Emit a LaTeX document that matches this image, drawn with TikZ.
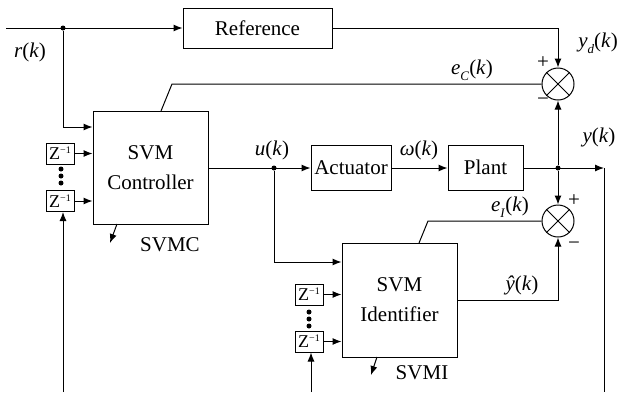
\documentclass[tikz,border=0pt]{standalone}
\usepackage{fontspec}
\setmainfont{Liberation Serif}
\usetikzlibrary{arrows.meta}
\newcommand\vi[1]{\textit{#1}}
\newcommand\sbs[1]{\raisebox{-0.6ex}{\fontsize{13}{13}\selectfont\textit{#1}}}
\newcommand\zinv{Z\raisebox{0.75ex}{\fontsize{10}{10}\selectfont −1}}
\begin{document}
\begin{tikzpicture}[x=1pt,y=-1pt,line width=1pt,
  box/.style={draw,inner sep=0pt,align=center,font=\fontsize{21}{30}\selectfont},
  zbox/.style={draw,inner sep=0pt,minimum width=28pt,minimum height=21pt,font=\fontsize{18}{18}\selectfont},
  sumc/.style={draw,circle,minimum size=32pt,inner sep=0pt},
  lbl/.style={inner sep=0pt,font=\fontsize{21}{24}\selectfont},
  sgn/.style={inner sep=0pt,font=\fontsize{21}{21}\selectfont},
  arr/.style={-{Latex[length=9pt,width=7pt]}},
  dot/.style={circle,fill,inner sep=0pt,minimum size=5pt}]
\useasboundingbox (0,0) rectangle (621,392);
% blocks
\node[box,minimum width=149pt,minimum height=40pt] (ref) at (257.5,28) {Reference};
\node[box,minimum width=115pt,minimum height=113pt] (ctrl) at (150.5,167.5) {SVM\\Controller};
\node[box,minimum width=80pt,minimum height=45pt] (act) at (351,167.5) {Actuator};
\node[box,minimum width=75pt,minimum height=45pt] (plant) at (485.5,167.5) {Plant};
\node[box,minimum width=115pt,minimum height=114pt] (ident) at (399.5,300) {SVM\\Identifier};
\node[sumc] (s1) at (558,84) {};
\node[sumc] (s2) at (558,221) {};
\draw (s1.north east) -- (s1.south west) (s1.north west) -- (s1.south east);
\draw (s2.north east) -- (s2.south west) (s2.north west) -- (s2.south east);
\node[zbox] (zc1) at (60,153.5) {\zinv};
\node[zbox] (zc2) at (60,201) {\zinv};
\node[zbox] (zi1) at (309,294.5) {\zinv};
\node[zbox] (zi2) at (309,341.5) {\zinv};
\node[dot] (zd1) at (61,169) {};
\node[dot] (zd2) at (61,176) {};
\node[dot] (zd3) at (61,183) {};
\node[dot] (zd4) at (309,312) {};
\node[dot] (zd5) at (309,319) {};
\node[dot] (zd6) at (309,326) {};
% coordinates
\coordinate (in) at (6,28);
\node[dot] (d1) at (63,28) {};
\coordinate (c127) at (0,127);
\node[dot] (du) at (274,168) {};
\coordinate (c262) at (0,262);
\node[dot] (dy) at (558,168) {};
\coordinate (yo) at (604,168);
\coordinate (fb1) at (604,392);
\coordinate (fb2) at (63,392);
\coordinate (fb3) at (311,392);
\coordinate (ec1) at (161,111);
\coordinate (ec2) at (172,84);
\coordinate (ei1) at (419,243);
\coordinate (ei2) at (428,221);
\coordinate (c300) at (0,300);
\coordinate (sc1) at (117,224);
\coordinate (sc2) at (110,243);
\coordinate (si1) at (377,357);
\coordinate (si2) at (371,375);
% connectors
\draw[arr] (in) -- (ref.west);
\draw[arr] (d1) |- (ctrl.west |- c127);
\draw[arr] (ref.east) -| (s1.north);
\draw (ec1) -- (ec2) -- (s1.west);
\draw[arr] (zc1.east) -- (ctrl.west |- zc1.east);
\draw[arr] (zc2.east) -- (ctrl.west |- zc2.east);
\draw[arr] (ctrl.east |- du) -- (act.west |- du);
\draw[arr] (act.east |- du) -- (plant.west |- du);
\draw[arr] (plant.east |- dy) -- (yo);
\draw (yo) -- (fb1);
\draw[arr] (dy) -- (s1.south);
\draw[arr] (dy) -- (s2.north);
\draw[arr] (du) |- (ident.west |- c262);
\draw[arr] (zi1.east) -- (ident.west |- zi1.east);
\draw[arr] (zi2.east) -- (ident.west |- zi2.east);
\draw (ei1) -- (ei2) -- (s2.west);
\draw[arr] (ident.east |- c300) -| (s2.south);
\draw[arr] (fb2) -- (fb2 |- zc2.south);
\draw[arr] (fb3) -- (fb3 |- zi2.south);
\draw[arr] (sc1) -- (sc2);
\draw[arr] (si1) -- (si2);
% labels
\node[lbl] (lr) at (30,52) {\vi{r}(\vi{k})};
\node[lbl] (lyd) at (598,43) {\vi{y}\sbs{d}(\vi{k})};
\node[lbl] (lec) at (472,70) {\vi{e}\sbs{C}(\vi{k})};
\node[lbl] (lu) at (272,150) {\vi{u}(\vi{k})};
\node[lbl] (lw) at (419,150) {\vi{ω}(\vi{k})};
\node[lbl] (ly) at (599,137) {\vi{y}(\vi{k})};
\node[lbl] (lei) at (510,207) {\vi{e}\sbs{I}(\vi{k})};
\node[lbl] (lyh) at (522,285) {\vi{ŷ}(\vi{k})};
\node[sgn] (p1) at (543,63) {+};
\node[sgn] (m1) at (543,102) {−};
\node[sgn] (p2) at (574,201) {+};
\node[sgn] (m2) at (574,246) {−};
\node[lbl] (lsvmc) at (170,245) {SVMC};
\node[lbl] (lsvmi) at (422,373) {SVMI};
\end{tikzpicture}
\end{document}
